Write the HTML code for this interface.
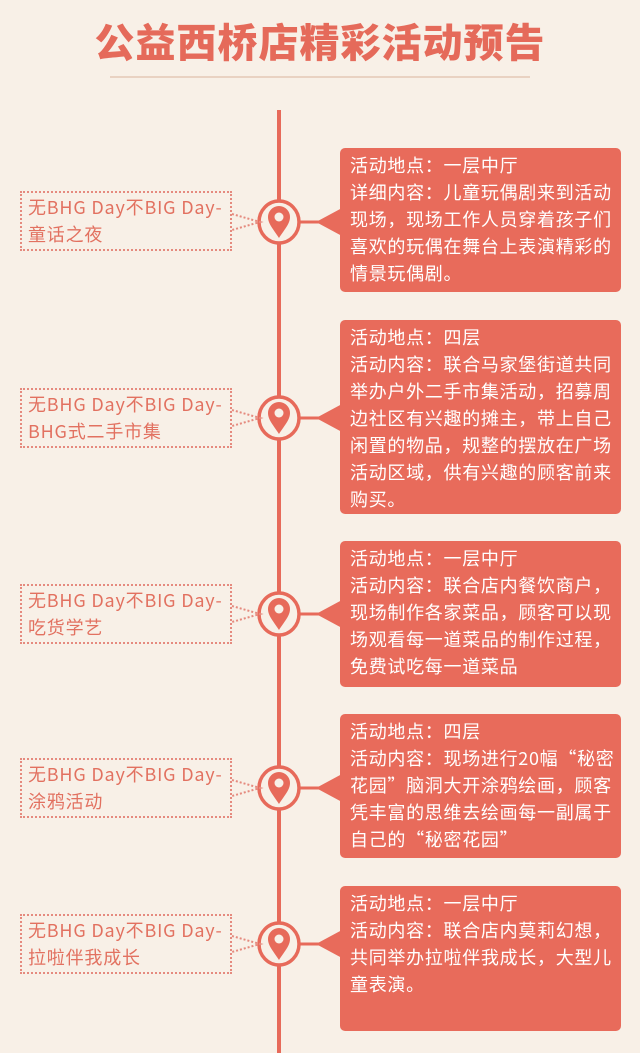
<!DOCTYPE html>
<html><head><meta charset="utf-8">
<style>
*{margin:0;padding:0;box-sizing:border-box}
body{width:640px;height:1053px;background:#f8f0e7;position:relative;overflow:hidden;font-family:"Noto Sans CJK SC","Liberation Sans",sans-serif}
.title{position:absolute;left:0;width:640px;top:14px;text-align:center;font-size:40px;line-height:52px;font-weight:900;color:#e56a5a;letter-spacing:1px;font-family:"Noto Sans CJK SC","WenQuanYi Zen Hei",sans-serif}
.rule{position:absolute;left:110px;width:420px;top:76px;height:2px;background:#e9d2c2}
.vline{position:absolute;left:277px;width:4px;top:110px;height:943px;background:#e76a5a}
.box{position:absolute;left:340px;width:281px;background:#e86b5b;border-radius:5px;color:#fff;font-size:18px;line-height:27px;padding:4px 0 0 10px;letter-spacing:0.7px;white-space:nowrap}
.lab{position:absolute;left:20px;width:212px;border:2px dotted #e58a7e;color:#e27160;font-size:18px;letter-spacing:0.8px;line-height:27px;padding:1px 0 0 6px;height:60px;white-space:nowrap}
</style></head><body>
<div class="title">公益西桥店精彩活动预告</div>
<div class="rule"></div>
<div class="vline"></div>

<svg width="640" height="1053" style="position:absolute;left:0;top:0">
<defs>
<g id="p">
<line x1="300" y1="0" x2="322" y2="0" stroke="#e76a5a" stroke-width="3"/>
<polygon points="316,0 342,-14 342,14" fill="#e86b5b"/>
<ellipse cx="279" cy="0" rx="20" ry="21" fill="#f8f0e7" stroke="#e76a5a" stroke-width="3.5"/>
<path d="M279,16 C274,8 268,2 268,-5 A11,11 0 0 1 290,-5 C290,2 284,8 279,16Z" fill="#e76a5a"/>
<circle cx="279" cy="-5" r="4.5" fill="#f8f0e7"/>
<polyline points="232,-8 260,0 232,8" fill="none" stroke="#e58a7e" stroke-width="2" stroke-dasharray="2,2"/>
</g>
</defs>
<use href="#p" y="222"/>
<use href="#p" y="418"/>
<use href="#p" y="614"/>
<use href="#p" y="788"/>
<use href="#p" y="944"/>
</svg>

<div class="lab" style="top:191px">无BHG Day不BIG Day-<br>童话之夜</div>
<div class="lab" style="top:388px">无BHG Day不BIG Day-<br>BHG式二手市集</div>
<div class="lab" style="top:584px">无BHG Day不BIG Day-<br>吃货学艺</div>
<div class="lab" style="top:758px">无BHG Day不BIG Day-<br>涂鸦活动</div>
<div class="lab" style="top:914px">无BHG Day不BIG Day-<br>拉啦伴我成长</div>

<div class="box" style="top:148px;height:144px">活动地点：一层中厅<br>详细内容：儿童玩偶剧来到活动<br>现场，现场工作人员穿着孩子们<br>喜欢的玩偶在舞台上表演精彩的<br>情景玩偶剧。</div>
<div class="box" style="top:320px;height:194px">活动地点：四层<br>活动内容：联合马家堡街道共同<br>举办户外二手市集活动，招募周<br>边社区有兴趣的摊主，带上自己<br>闲置的物品，规整的摆放在广场<br>活动区域，供有兴趣的顾客前来<br>购买。</div>
<div class="box" style="top:541px;height:146px">活动地点：一层中厅<br>活动内容：联合店内餐饮商户，<br>现场制作各家菜品，顾客可以现<br>场观看每一道菜品的制作过程，<br>免费试吃每一道菜品</div>
<div class="box" style="top:714px;height:144px">活动地点：四层<br>活动内容：现场进行20幅“秘密<br>花园”脑洞大开涂鸦绘画，顾客<br>凭丰富的思维去绘画每一副属于<br>自己的“秘密花园”</div>
<div class="box" style="top:886px;height:145px">活动地点：一层中厅<br>活动内容：联合店内莫莉幻想，<br>共同举办拉啦伴我成长，大型儿<br>童表演。</div>
</body></html>
